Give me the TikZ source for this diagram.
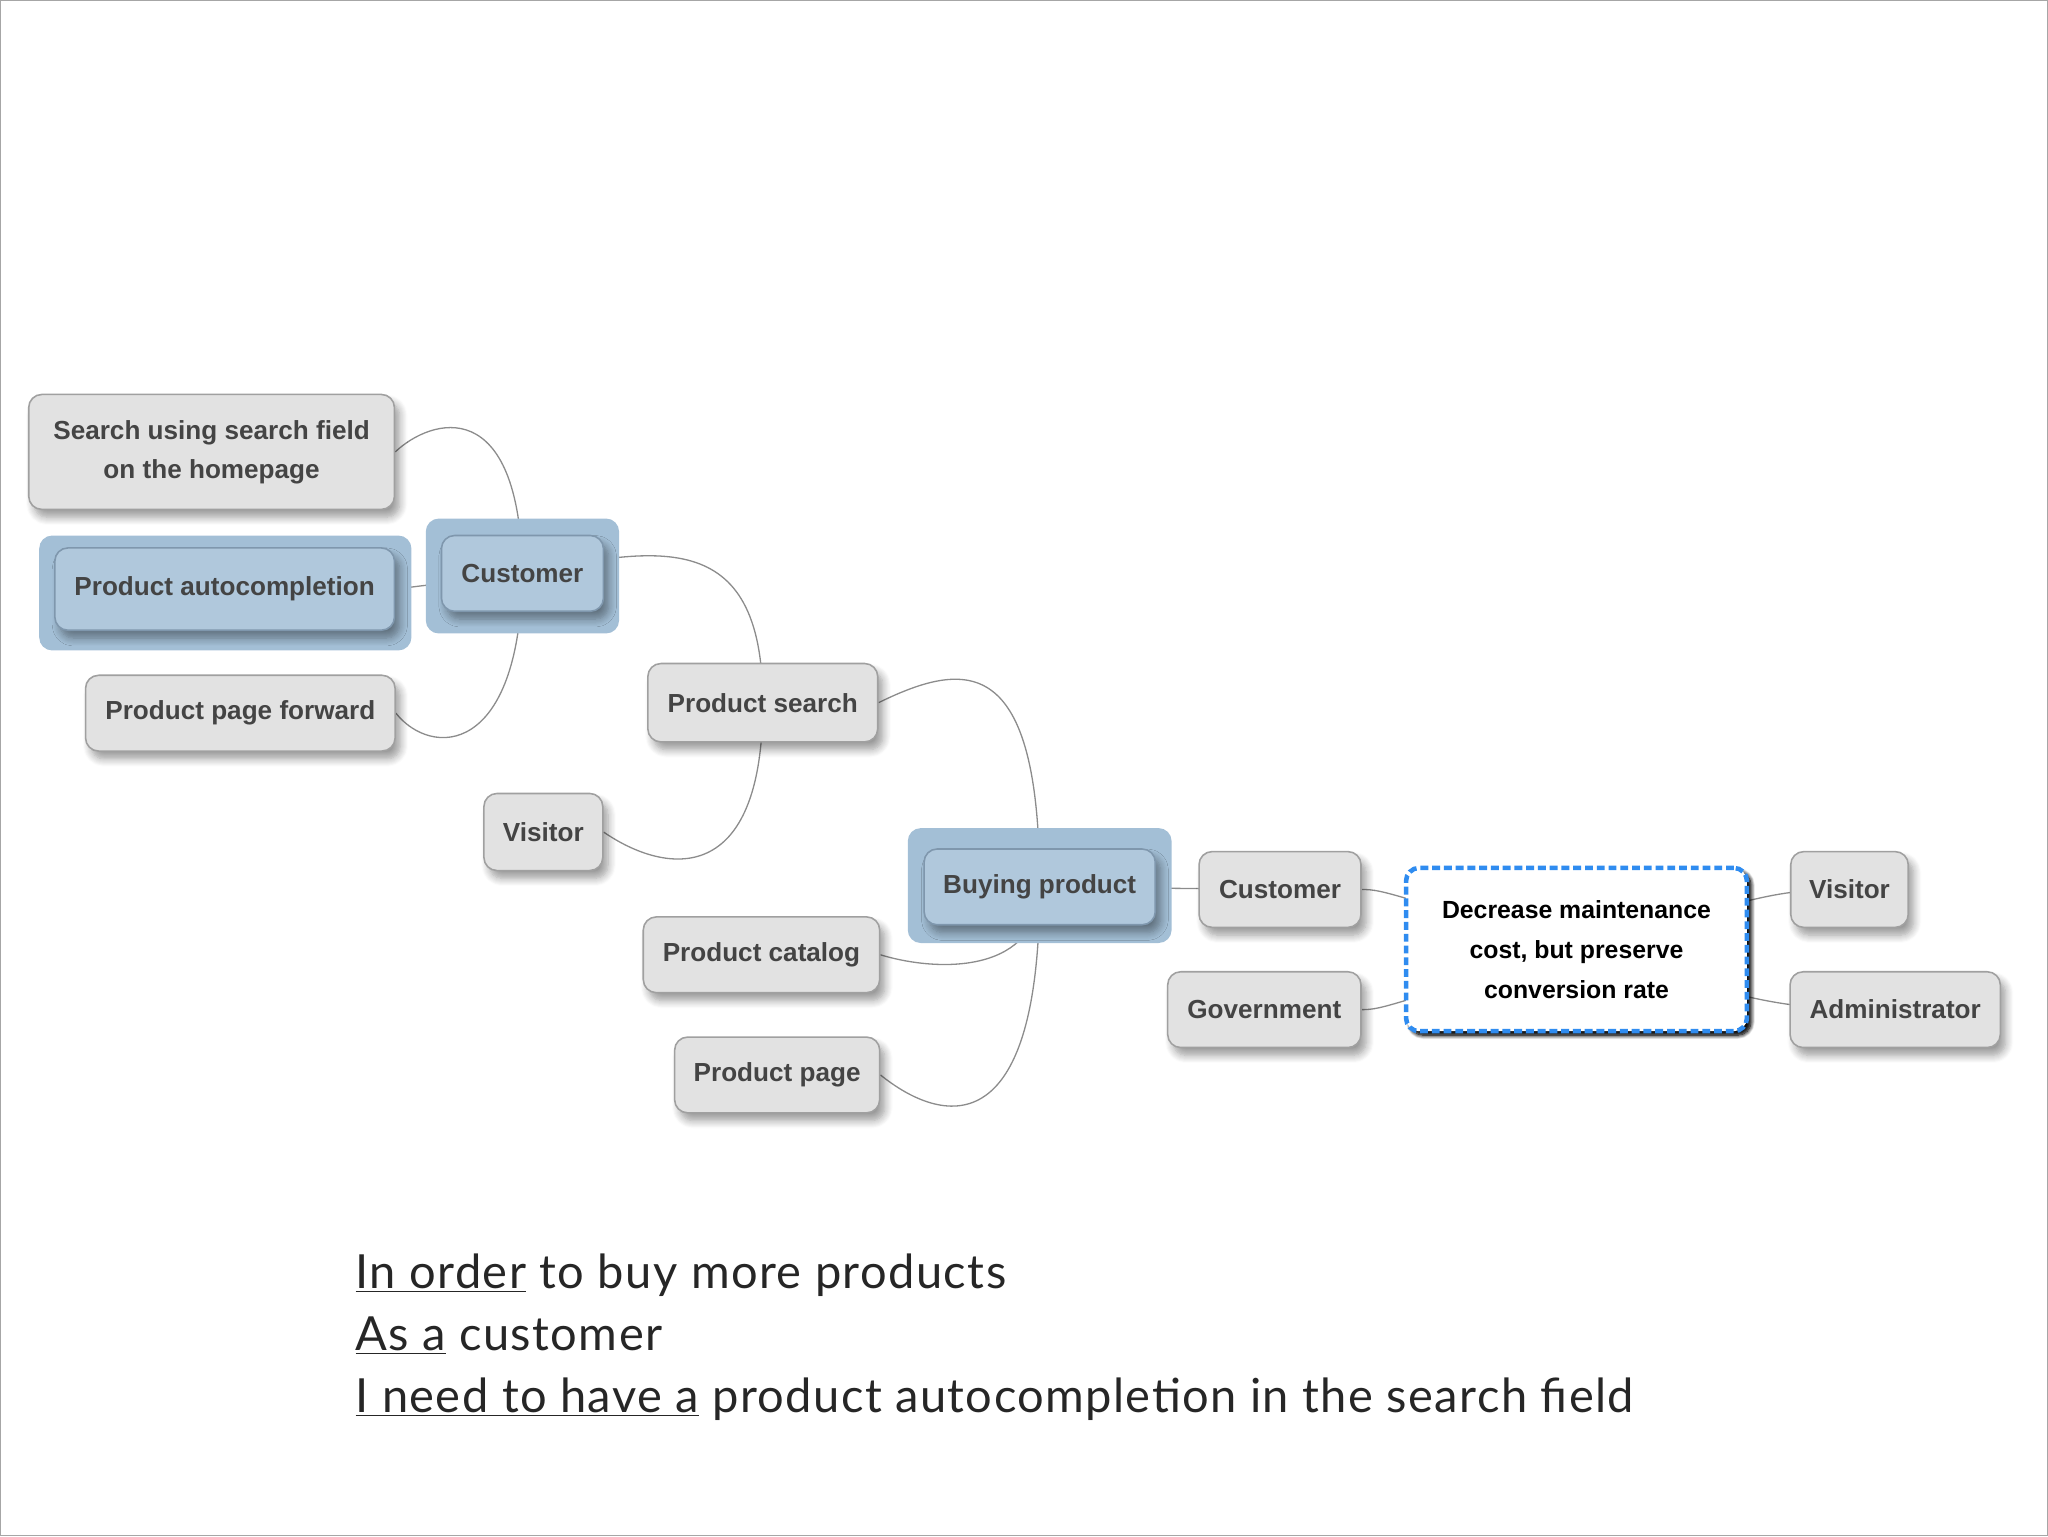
\documentclass[tikz,border=0pt]{standalone}
\usepackage{fontspec}
\setmainfont{Liberation Sans}
\newfontfamily\thinfont[LetterSpace=3]{Lato}
\usetikzlibrary{shadows.blur,backgrounds}
\definecolor{boxfill}{HTML}{E2E2E2}
\definecolor{boxline}{HTML}{A0A0A0}
\definecolor{txt}{HTML}{444444}
\definecolor{hl}{HTML}{A3BFD6}
\definecolor{hlin}{HTML}{B0C8DC}
\definecolor{hlline}{HTML}{7F97AD}
\definecolor{dashblue}{HTML}{2F8CF0}
\tikzset{
 mm/.style={draw=boxline,line width=1.2pt,fill=boxfill,rounded corners=10pt,font=\bfseries\fontsize{20}{30}\selectfont,text=txt,align=center,inner sep=0pt,blur shadow={shadow xshift=4pt,shadow yshift=-6pt,shadow blur steps=8,shadow blur radius=6pt}},
 hlnode/.style={fill=hlin,draw=hlline},
 hlbox/.style={fill=hl,rounded corners=10pt},
 con/.style={draw=gray!90,line width=1pt}
}
\begin{document}
\begin{tikzpicture}[x=1pt,y=-1pt]
\useasboundingbox (0,0) rectangle (1568,1176);
\draw[gray!70,line width=1pt] (0.5,0.5) rectangle (1567.5,1175.5);
% highlights
\fill[hlbox] (30,410) rectangle (315,498);
\fill[hlbox] (326,397) rectangle (474,485);
\fill[hlbox] (695,634) rectangle (897,722);
% nodes
\node[mm,minimum width=280pt,minimum height=88pt] (search) at (162,346) {Search using search field\\ on the homepage};
\node[mm,hlnode,minimum width=260pt,minimum height=63pt] (auto) at (172,451) {Product autocompletion};
\node[mm,hlnode,minimum width=124pt,minimum height=58pt] (cust1) at (400,439) {Customer};
\node[mm,minimum width=237pt,minimum height=58pt] (ppf) at (184,546) {Product page forward};
\node[mm,minimum width=176pt,minimum height=60pt] (psearch) at (584,538) {Product search};
\node[mm,minimum width=91pt,minimum height=59pt] (vis1) at (416,637) {Visitor};
\node[mm,hlnode,minimum width=177pt,minimum height=58pt] (buy) at (796,679) {Buying product};
\node[mm,minimum width=181pt,minimum height=58pt] (pcat) at (583,731) {Product catalog};
\node[mm,minimum width=157pt,minimum height=58pt] (ppage) at (595,823) {Product page};
\node[mm,minimum width=124pt,minimum height=58pt] (cust2) at (980,681) {Customer};
\node[mm,minimum width=148pt,minimum height=58pt] (gov) at (968,773) {Government};
\node[mm,fill=white,draw=dashblue,dash pattern=on 6pt off 3pt,line width=3.5pt,minimum width=261pt,minimum height=125pt,text=black,font=\bfseries\fontsize{19}{30.5}\selectfont,blur shadow={shadow xshift=3pt,shadow yshift=-3pt,shadow opacity=80,shadow blur radius=3pt}] (goal) at (1207,727) {Decrease maintenance\\ cost, but preserve\\ conversion rate};
\node[mm,minimum width=90pt,minimum height=58pt] (vis2) at (1416,681) {Visitor};
\node[mm,minimum width=161pt,minimum height=58pt] (admin) at (1451,773) {Administrator};
% connectors
\begin{pgfonlayer}{background}
\draw[con] (search.east) .. controls (330,320) and (398,300) .. (cust1.center);
\draw[con] (auto.east) -- (cust1.center);
\draw[con] (ppf.east) .. controls (330,580) and (398,580) .. (cust1.center);
\draw[con] (cust1.center) .. controls (500,420) and (584,400) .. (psearch.center);
\draw[con] (vis1.east) .. controls (510,670) and (584,680) .. (psearch.center);
\draw[con] (psearch.east) .. controls (740,505) and (796,500) .. (buy.center);
\draw[con] (pcat.east) .. controls (720,745) and (796,745) .. (buy.center);
\draw[con] (ppage.east) .. controls (720,860) and (796,880) .. (buy.center);
\draw[con] (buy.center) -- (cust2.center);
\draw[con] (cust2.east) .. controls (1060,681) and (1065,685) .. (goal.center);
\draw[con] (gov.east) .. controls (1060,773) and (1065,768) .. (goal.center);
\draw[con] (goal.center) .. controls (1350,685) and (1360,681) .. (vis2.center);
\draw[con] (goal.center) .. controls (1350,768) and (1360,773) .. (admin.center);
\end{pgfonlayer}
% bottom text
\node[anchor=west,font=\thinfont\fontsize{36}{47.5}\selectfont,text=black!85,align=left,inner sep=0pt] (story) at (272,1024) {\underline{In order} to buy more products\\ \underline{As a} customer\\ \underline{I need to have a} product autocompletion in the search field};
\end{tikzpicture}
\end{document}
